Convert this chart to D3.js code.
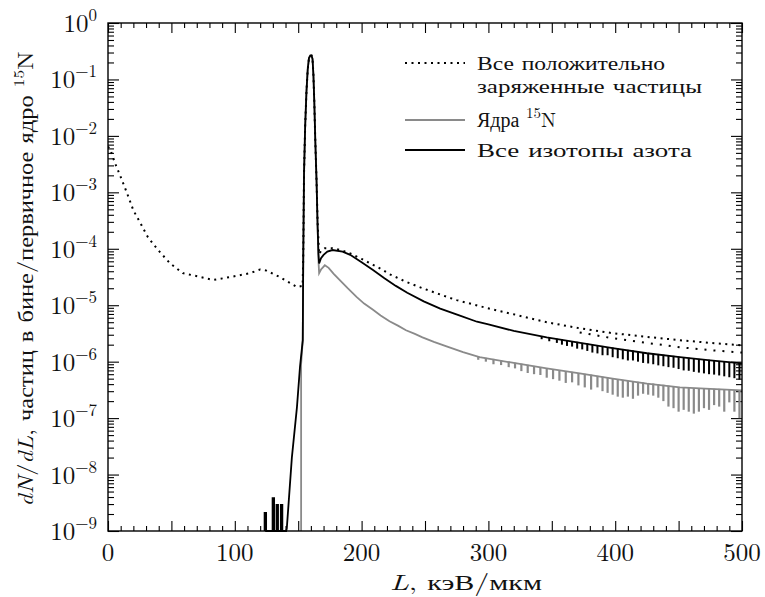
<!DOCTYPE html>
<html lang="ru">
<head>
<meta charset="UTF-8">
<title>dN/dL</title>
<script src="https://d3js.org/d3.v7.min.js"></script>
<style>
  body { margin: 0; background: #fff; }
  svg { display: block; }
  .tick line { stroke: #000; stroke-width: 1.1px; }
</style>
</head>
<body>
<svg id="chart" width="765" height="597"></svg>
<script>
// --- data (L in keV/um, dN/dL per primary) ---
// 1e-10 means "empty bin" -> clamped to the bottom of the plot
const allCharged = [
  [0, 6.5e-3], [2, 5.6e-3], [5.5, 3.3e-3], [9.5, 2.0e-3], [15, 9.7e-4], [20, 4.8e-4],
  [25, 3.0e-4], [31.5, 1.6e-4], [39.5, 9.5e-5], [49, 5.5e-5], [59, 3.7e-5], [72, 3.2e-5],
  [83, 2.8e-5], [98, 3.2e-5], [112, 3.7e-5], [120, 4.3e-5], [125, 4.1e-5], [135, 3.2e-5],
  [149, 2.1e-5], [153.5, 2.2e-5], [154, 8e-5], [154.6, 2.2e-3], [155.5, 1.5e-2],
  [156.5, 6e-2], [157.5, 1.5e-1], [158.5, 2.4e-1], [159.5, 2.65e-1], [160.5, 2.65e-1],
  [161.3, 2.3e-1], [162, 1.2e-1], [162.7, 4e-2], [163.5, 8e-3], [164.5, 1.5e-3],
  [165.3, 3e-4], [166.5, 8e-5], [168, 9.2e-5], [171, 1.02e-4], [177, 1.02e-4],
  [185, 9.3e-5], [191, 8.3e-5], [200, 6.6e-5], [209, 5.2e-5], [216, 4.3e-5],
  [222, 3.55e-5], [235, 2.6e-5], [248, 2.0e-5], [262, 1.55e-5], [275, 1.23e-5],
  [287, 1.05e-5], [299, 8.9e-6], [320, 6.9e-6], [346, 5.0e-6], [372, 3.9e-6],
  [398, 3.2e-6], [425, 2.75e-6], [451, 2.4e-6], [475, 2.15e-6], [500, 1.95e-6]
];
// lower row of the scattered dotted tail
const allChargedLow = [
  [372, 3.3e-6], [398, 2.6e-6], [425, 2.15e-6], [451, 1.8e-6], [475, 1.6e-6], [500, 1.45e-6]
];

const nitrogen15 = [
  [152.3, 1e-10], [152.3, 9e-7], [153.6, 2.4e-6], [154, 8e-5], [154.6, 2.2e-3],
  [155.5, 1.5e-2], [156.5, 6e-2], [157.5, 1.5e-1], [158.5, 2.4e-1], [159.5, 2.65e-1],
  [160.5, 2.65e-1], [161.3, 2.3e-1], [162, 1.2e-1], [162.7, 4e-2], [163.5, 8e-3],
  [164.5, 1.5e-3], [165.3, 2.5e-4], [166, 6e-5], [166.5, 3.7e-5], [168, 4.3e-5],
  [171, 5.1e-5], [174, 4.6e-5], [178, 3.6e-5], [183, 2.75e-5], [189, 2.0e-5],
  [196, 1.41e-5], [202, 1.07e-5], [209, 8.3e-6], [215, 6.6e-6], [222, 5.2e-6],
  [229, 4.3e-6], [235, 3.6e-6], [242, 3.1e-6], [248, 2.7e-6], [257, 2.24e-6],
  [267, 1.86e-6], [280, 1.48e-6], [293, 1.2e-6], [320, 9.5e-7], [346, 7.6e-7],
  [372, 6.2e-7], [398, 5.0e-7], [425, 4.1e-7], [451, 3.5e-7], [475, 3.3e-7], [500, 3.1e-7]
];

const nitrogenAll = [
  [123.5, 1e-10], [123.5, 2.1e-9], [124.7, 2.1e-9], [124.7, 1e-10],
  [129.8, 1e-10], [129.8, 3.8e-9], [131, 3.8e-9], [131, 1e-10],
  [132.9, 1e-10], [132.9, 2.9e-9], [134.1, 2.9e-9], [134.1, 1e-10],
  [136.3, 1e-10], [136.3, 2.9e-9], [137.5, 2.9e-9], [137.5, 1e-10],
  [140.5, 1e-10], [141, 1.1e-9], [145, 2e-8], [149, 1.55e-7], [151.4, 8e-7],
  [153.6, 2.4e-6], [154, 8e-5], [154.6, 2.2e-3], [155.5, 1.5e-2], [156.5, 6e-2],
  [157.5, 1.5e-1], [158.5, 2.4e-1], [159.5, 2.65e-1], [160.5, 2.65e-1], [161.3, 2.3e-1],
  [162, 1.2e-1], [162.7, 4e-2], [163.5, 8e-3], [164.5, 1.5e-3], [165.3, 2.5e-4],
  [166, 8e-5], [166.5, 5.5e-5], [168, 6.8e-5], [170, 7.8e-5], [173, 8.9e-5],
  [177, 9.5e-5], [185, 8.9e-5], [191, 7.8e-5], [200, 5.75e-5], [209, 4.2e-5],
  [218, 3.0e-5], [227, 2.2e-5], [236, 1.66e-5], [249, 1.17e-5], [262, 8.7e-6],
  [277, 6.6e-6], [291, 5.1e-6], [300, 4.6e-6], [320, 3.5e-6], [346, 2.7e-6],
  [370, 2.2e-6], [398, 1.74e-6], [425, 1.41e-6], [451, 1.2e-6], [475, 1.05e-6], [500, 9.3e-7]
];

// narrow under-filled bins in the tails: [L, top, bottom]
const nitrogenAllDips = [
  [342, 2.8e-6, 2.5e-6], [348, 2.65e-6, 2.3e-6], [354, 2.55e-6, 2.15e-6], [358, 2.5e-6, 2.0e-6],
  [362, 2.4e-6, 1.9e-6], [366, 2.3e-6, 1.85e-6], [370, 2.25e-6, 1.7e-6], [374, 2.15e-6, 1.65e-6],
  [378, 2.1e-6, 1.55e-6], [382, 2.0e-6, 1.45e-6], [386, 1.95e-6, 1.4e-6], [390, 1.9e-6, 1.3e-6],
  [394, 1.82e-6, 1.3e-6], [398, 1.78e-6, 1.2e-6], [402, 1.72e-6, 1.15e-6], [406, 1.68e-6, 1.1e-6],
  [410, 1.62e-6, 1.05e-6], [414, 1.58e-6, 1.05e-6], [418, 1.54e-6, 1.0e-6], [422, 1.48e-6, 9.5e-7],
  [426, 1.44e-6, 9.3e-7], [430, 1.4e-6, 9.0e-7], [434, 1.37e-6, 8.6e-7], [438, 1.33e-6, 8.3e-7],
  [442, 1.3e-6, 8.0e-7], [446, 1.27e-6, 7.8e-7], [450, 1.23e-6, 7.4e-7], [454, 1.2e-6, 7.0e-7],
  [458, 1.17e-6, 6.9e-7], [462, 1.14e-6, 6.6e-7], [466, 1.12e-6, 6.4e-7], [470, 1.1e-6, 6.2e-7],
  [474, 1.08e-6, 6.0e-7], [478, 1.05e-6, 5.9e-7], [482, 1.03e-6, 5.7e-7], [486, 1.01e-6, 5.5e-7],
  [490, 9.9e-7, 5.3e-7], [494, 9.7e-7, 5.1e-7], [498, 9.5e-7, 4.8e-7]
];
const nitrogen15Dips = [
  [292, 1.25e-6, 1.08e-6], [298, 1.17e-6, 1.0e-6], [304, 1.12e-6, 9.0e-7],
  [310, 1.07e-6, 8.7e-7], [316, 1.01e-6, 8.0e-7], [321, 9.6e-7, 7.6e-7], [326, 9.2e-7, 6.8e-7],
  [331, 8.8e-7, 6.3e-7], [336, 8.4e-7, 6.0e-7], [341, 8.0e-7, 5.8e-7], [346, 7.7e-7, 5.2e-7],
  [351, 7.4e-7, 4.9e-7], [356, 7.1e-7, 4.6e-7], [361, 6.8e-7, 4.2e-7], [366, 6.6e-7, 4.3e-7],
  [371, 6.3e-7, 3.8e-7], [376, 6.1e-7, 3.5e-7], [381, 5.9e-7, 3.2e-7], [386, 5.6e-7, 3.5e-7],
  [390, 5.4e-7, 3.0e-7], [394, 5.2e-7, 2.8e-7], [398, 5.0e-7, 2.6e-7], [402, 4.9e-7, 2.4e-7],
  [406, 4.75e-7, 2.3e-7], [410, 4.6e-7, 2.4e-7], [414, 4.5e-7, 2.2e-7], [418, 4.4e-7, 2.5e-7],
  [422, 4.3e-7, 2.7e-7], [426, 4.2e-7, 2.6e-7], [430, 4.1e-7, 2.5e-7], [434, 4.0e-7, 2.3e-7],
  [438, 3.9e-7, 2.0e-7], [442, 3.75e-7, 1.6e-7], [446, 3.65e-7, 1.5e-7], [450, 3.55e-7, 1.3e-7],
  [454, 3.5e-7, 1.4e-7], [458, 3.45e-7, 1.3e-7], [462, 3.4e-7, 1.2e-7], [466, 3.4e-7, 1.3e-7],
  [470, 3.35e-7, 1.5e-7], [474, 3.3e-7, 1.4e-7], [478, 3.3e-7, 1.7e-7], [482, 3.3e-7, 1.6e-7],
  [486, 3.2e-7, 1.3e-7], [490, 3.2e-7, 1.9e-7], [494, 3.15e-7, 1.3e-7], [498, 3.1e-7, 1.0e-7]
];

const xMajor = [0, 50, 100, 150, 200, 250, 300, 350, 400, 450, 500];
const xLabels = [0, 100, 200, 300, 400, 500];
const yExponents = [0, -1, -2, -3, -4, -5, -6, -7, -8, -9];

const GRAY = "#8a8a8a";
// Latin Modern for digits / Latin letters, Liberation Serif picks up the Cyrillic
const FONT = "'Latin Modern Roman', 'Liberation Serif', serif";

// --- layout ---
const svg = d3.select("#chart").attr("font-family", FONT);
const mLeft = 108, mRight = 742, mTop = 23, mBottom = 531;

const x = d3.scaleLinear().domain([0, 500]).range([mLeft, mRight]);
const y = d3.scaleLog().domain([1e-9, 1]).range([mBottom, mTop]).clamp(true);

svg.append("defs").append("clipPath").attr("id", "plot")
  .append("rect").attr("x", mLeft).attr("y", mTop - 1)
  .attr("width", mRight - mLeft).attr("height", mBottom - mTop + 2);

// ticks (all pointing inward)
const xMinor = d3.range(0, 501, 10).filter(v => v % 50 !== 0);
const yMajorVals = yExponents.map(e => Math.pow(10, e));
const yMinorVals = [];
yExponents.slice(1).forEach(e => {
  for (let k = 2; k <= 9; k++) yMinorVals.push(k * Math.pow(10, e));
});

function noDomain(g) { g.select(".domain").remove(); }

svg.append("g").attr("transform", `translate(0,${mBottom})`)
  .call(d3.axisBottom(x).tickValues(xMajor).tickSize(-10).tickFormat("")).call(noDomain);
svg.append("g").attr("transform", `translate(0,${mBottom})`)
  .call(d3.axisBottom(x).tickValues(xMinor).tickSize(-5).tickFormat("")).call(noDomain);
svg.append("g").attr("transform", `translate(0,${mTop})`)
  .call(d3.axisTop(x).tickValues(xMajor).tickSize(-10).tickFormat("")).call(noDomain);
svg.append("g").attr("transform", `translate(0,${mTop})`)
  .call(d3.axisTop(x).tickValues(xMinor).tickSize(-5).tickFormat("")).call(noDomain);

svg.append("g").attr("transform", `translate(${mLeft},0)`)
  .call(d3.axisLeft(y).tickValues(yMajorVals).tickSize(-11).tickFormat("")).call(noDomain);
svg.append("g").attr("transform", `translate(${mLeft},0)`)
  .call(d3.axisLeft(y).tickValues(yMinorVals).tickSize(-6).tickFormat("")).call(noDomain);
svg.append("g").attr("transform", `translate(${mRight},0)`)
  .call(d3.axisRight(y).tickValues(yMajorVals).tickSize(-11).tickFormat("")).call(noDomain);
svg.append("g").attr("transform", `translate(${mRight},0)`)
  .call(d3.axisRight(y).tickValues(yMinorVals).tickSize(-6).tickFormat("")).call(noDomain);

// tick labels
svg.append("g").selectAll("text").data(xLabels).join("text")
  .attr("font-family", FONT)
  .attr("x", d => x(d)).attr("y", mBottom + 30)
  .attr("text-anchor", "middle").attr("font-size", 25).attr("fill", "#111")
  .text(d => d);

const yl = svg.append("g").selectAll("text").data(yExponents).join("text")
  .attr("font-family", FONT)
  .attr("x", mLeft - 11).attr("y", d => y(Math.pow(10, d)) + 9)
  .attr("text-anchor", "end").attr("font-size", 25).attr("fill", "#111");
yl.append("tspan").text("10");
yl.append("tspan").attr("dy", -11).attr("font-size", 17)
  .text(d => d === 0 ? "0" : "\u2212" + (-d));

// axis titles
const xt = svg.append("text").attr("font-family", FONT)
  .attr("x", 466).attr("y", 590)
  .attr("text-anchor", "middle").attr("font-size", 22).attr("fill", "#111")
  .attr("textLength", 152).attr("lengthAdjust", "spacingAndGlyphs");
xt.append("tspan").attr("font-style", "italic").text("L");
xt.append("tspan").text(", кэВ/мкм");

const yt = svg.append("text").attr("font-family", FONT)
  .attr("transform", "translate(33,279) rotate(-90)")
  .attr("text-anchor", "middle").attr("font-size", 21).attr("fill", "#111")
  .attr("textLength", 455).attr("lengthAdjust", "spacingAndGlyphs");
yt.append("tspan").attr("font-style", "italic").text("dN");
yt.append("tspan").text("/");
yt.append("tspan").attr("font-style", "italic").text("dL");
yt.append("tspan").text(", частиц в  бине/первичное ядро ");
yt.append("tspan").attr("font-size", 15).attr("dy", -9).text("15");
yt.append("tspan").attr("dy", 9).text("N");

// curves
const line = d3.line().x(d => x(d[0])).y(d => y(d[1]));
const plot = svg.append("g").attr("clip-path", "url(#plot)");

plot.append("path").datum(nitrogen15)
  .attr("d", line).attr("fill", "none").attr("stroke", GRAY).attr("stroke-width", 1.8);
plot.append("g").selectAll("line").data(nitrogen15Dips).join("line")
  .attr("x1", d => x(d[0])).attr("x2", d => x(d[0]))
  .attr("y1", d => y(d[1])).attr("y2", d => y(d[2]))
  .attr("stroke", GRAY).attr("stroke-width", 2.2);

plot.append("path").datum(allCharged)
  .attr("d", line).attr("fill", "none").attr("stroke", "#000")
  .attr("stroke-width", 2).attr("stroke-dasharray", "2,4.5");
plot.append("path").datum(allChargedLow)
  .attr("d", line).attr("fill", "none").attr("stroke", "#000")
  .attr("stroke-width", 2).attr("stroke-dasharray", "2,7");

plot.append("path").datum(nitrogenAll)
  .attr("d", line).attr("fill", "none").attr("stroke", "#000").attr("stroke-width", 1.8);
plot.append("g").selectAll("line").data(nitrogenAllDips).join("line")
  .attr("x1", d => x(d[0])).attr("x2", d => x(d[0]))
  .attr("y1", d => y(d[1])).attr("y2", d => y(d[2]))
  .attr("stroke", "#000").attr("stroke-width", 2);

// frame
svg.append("rect").attr("x", mLeft).attr("y", mTop)
  .attr("width", mRight - mLeft).attr("height", mBottom - mTop)
  .attr("fill", "none").attr("stroke", "#000").attr("stroke-width", 1.4);

// legend
const legend = svg.append("g").attr("font-size", 19).attr("fill", "#111").attr("font-family", FONT);
legend.append("line").attr("x1", 405).attr("x2", 465).attr("y1", 63).attr("y2", 63)
  .attr("stroke", "#000").attr("stroke-width", 2).attr("stroke-dasharray", "2,4.5");
legend.append("text").attr("x", 477).attr("y", 70)
  .attr("textLength", 188).attr("lengthAdjust", "spacingAndGlyphs").text("Все положительно");
legend.append("text").attr("x", 477).attr("y", 93)
  .attr("textLength", 225).attr("lengthAdjust", "spacingAndGlyphs").text("заряженные частицы");

legend.append("line").attr("x1", 405).attr("x2", 465).attr("y1", 120).attr("y2", 120)
  .attr("stroke", GRAY).attr("stroke-width", 1.8);
const l15 = legend.append("text").attr("x", 477).attr("y", 127).attr("font-size", 20);
l15.append("tspan").text("Ядра ");
l15.append("tspan").attr("font-size", 15).attr("dy", -9).text("15");
l15.append("tspan").attr("dy", 9).text("N");

legend.append("line").attr("x1", 405).attr("x2", 465).attr("y1", 150).attr("y2", 150)
  .attr("stroke", "#000").attr("stroke-width", 1.8);
legend.append("text").attr("x", 477).attr("y", 157)
  .attr("textLength", 215).attr("lengthAdjust", "spacingAndGlyphs").text("Все изотопы  азота");
</script>
</body>
</html>
